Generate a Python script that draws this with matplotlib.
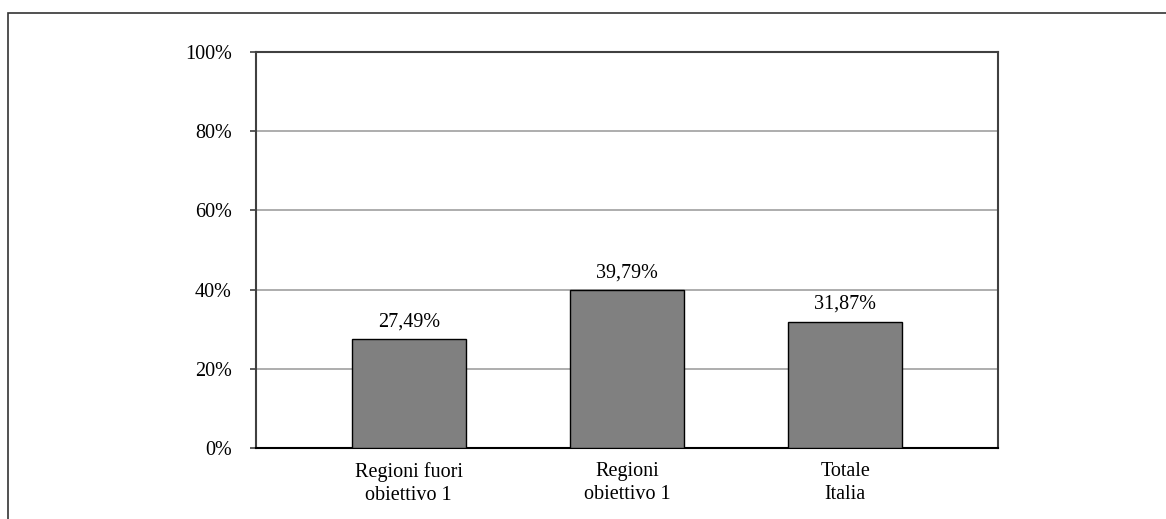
import matplotlib.pyplot as plt
from matplotlib.patches import Rectangle

categories = ['Regioni fuori\nobiettivo 1', 'Regioni\nobiettivo 1', 'Totale\nItalia']
values = [27.49, 39.79, 31.87]
labels = ['27,49%', '39,79%', '31,87%']
yticks = [0, 20, 40, 60, 80, 100]

plt.rcParams['font.family'] = ['Liberation Serif', 'DejaVu Serif']
plt.rcParams['font.size'] = 14.5

W, H = 1166, 519
fig = plt.figure(figsize=(W / 100, H / 100), dpi=100)
ax = fig.add_axes([256 / W, 1 - 448 / H, (998 - 256) / W, (448 - 52) / H])

# outer frame, running off the right and bottom edges
fig.patches.append(Rectangle((7.5 / W, -0.1), 1.2, 1 - 12.5 / H + 0.1,
                             transform=fig.transFigure, fill=False,
                             edgecolor='#333333', linewidth=1.2))

x = list(range(len(categories)))
ax.bar(x, values, width=0.52, color='#808080', edgecolor='black',
       linewidth=1.0, zorder=3)
for xi, v, lab in zip(x, values, labels):
    ax.text(xi, v + 2.0, lab, ha='center', va='bottom', zorder=4)

ax.set_xlim(-0.7, 2.7)
ax.set_ylim(0, 100)
ax.set_yticks(yticks)
ax.set_yticklabels([f'{t}%' for t in yticks])
ax.set_xticks(x)
ax.set_xticklabels(categories, linespacing=1.3)
ax.tick_params(axis='x', length=0, pad=10)
ax.tick_params(axis='y', length=4.3, width=1.2, color='#404040', pad=13)

for t in yticks[1:-1]:
    ax.axhline(t, color='#a0a0a0', linewidth=1.2, zorder=1)

for s in ax.spines.values():
    s.set_color('#404040')
    s.set_linewidth(1.5)
ax.spines['bottom'].set_color('black')

fig.savefig('out.png', dpi=100)
